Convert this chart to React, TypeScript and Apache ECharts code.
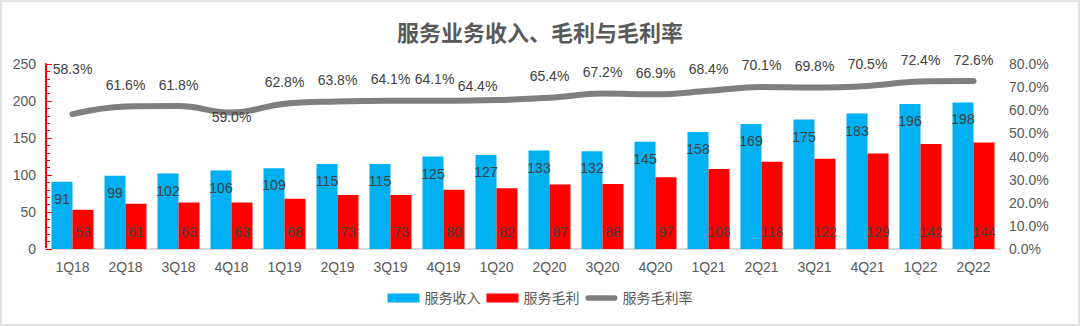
import React, { useEffect, useRef } from "react";
import * as echarts from "echarts";

const categories = ["1Q18","2Q18","3Q18","4Q18","1Q19","2Q19","3Q19","4Q19","1Q20","2Q20","3Q20","4Q20","1Q21","2Q21","3Q21","4Q21","1Q22","2Q22"];
const revenue = [91,99,102,106,109,115,115,125,127,133,132,145,158,169,175,183,196,198];
const grossProfit = [53,61,63,63,68,73,73,80,82,87,88,97,108,118,122,129,142,144];
const grossMargin = [58.3,61.6,61.8,59.0,62.8,63.8,64.1,64.1,64.4,65.4,67.2,66.9,68.4,70.1,69.8,70.5,72.4,72.6];

const FONT = "'Liberation Sans', 'Noto Sans CJK SC', sans-serif";
const LINE_ICON = "path://M3,0 L31,0 A3,3 0 0 1 31,6 L3,6 A3,3 0 0 1 3,0 Z";

export default function App() {
  const ref = useRef<HTMLDivElement>(null);
  useEffect(() => {
    document.body.style.margin = "0";
    const chart = echarts.init(ref.current!, null, { renderer: "svg" });
    const marginData = grossMargin.map((v, i) => {
      if (i === 0) return { value: v, label: { distance: 38 } };
      if (i === 3) return { value: v, label: { position: "inside", offset: [0, 4] } };
      if (i === 7) return { value: v, label: { offset: [-9, 0] } };
      if (i === 8) return { value: v, label: { offset: [-19, 7] } };
      return v;
    });
    chart.setOption({
      animation: false,
      textStyle: { fontFamily: FONT },
      title: {
        text: "服务业务收入、毛利与毛利率",
        left: "center",
        top: 15,
        textStyle: { fontSize: 22, color: "#595959", fontWeight: "bold", fontFamily: FONT },
      },
      legend: {
        bottom: 14,
        left: "center",
        itemWidth: 32,
        itemHeight: 9,
        itemGap: 6,
        textStyle: { fontSize: 14, color: "#595959" },
        data: [
          { name: "服务收入", icon: "rect" },
          { name: "服务毛利", icon: "rect" },
          { name: "服务毛利率", icon: LINE_ICON, itemStyle: { color: "#7f7f7f" } },
        ],
      },
      grid: { left: 44, right: 78, top: 62, bottom: 75 },
      xAxis: {
        type: "category",
        data: categories,
        axisLine: { lineStyle: { color: "#d9d9d9", width: 2 } },
        axisTick: { show: false },
        axisLabel: { fontSize: 14, color: "#595959", margin: 11 },
      },
      yAxis: [
        {
          type: "value",
          min: 0,
          max: 250,
          interval: 50,
          splitLine: { show: false },
          axisLine: { show: true, lineStyle: { color: "#ff0000", width: 2 } },
          axisTick: { show: true, inside: true, length: 6, lineStyle: { color: "#ff0000" } },
          minorTick: { show: true, splitNumber: 5, length: 4, lineStyle: { color: "#ff0000" } },
          axisLabel: { fontSize: 14, color: "#595959", margin: 10 },
        },
        {
          type: "value",
          min: 0,
          max: 80,
          interval: 10,
          splitLine: { show: false },
          axisLine: { show: false },
          axisTick: { show: false },
          axisLabel: {
            fontSize: 14,
            color: "#595959",
            margin: 9,
            formatter: (v: number) => v.toFixed(1) + "%",
          },
        },
      ],
      series: [
        {
          name: "服务收入",
          type: "bar",
          data: revenue,
          barWidth: 21,
          barGap: "0%",
          itemStyle: { color: "#00b0f0" },
          label: {
            show: true,
            position: "insideTop",
            distance: 10,
            fontSize: 14,
            color: "#404040",
          },
        },
        {
          name: "服务毛利",
          type: "bar",
          data: grossProfit,
          barWidth: 21,
          barGap: "0%",
          itemStyle: { color: "#ff0000" },
          label: {
            show: true,
            position: "insideBottom",
            distance: 10,
            fontSize: 14,
            color: "#404040",
          },
        },
        {
          name: "服务毛利率",
          type: "line",
          yAxisIndex: 1,
          data: marginData,
          smooth: 0.4,
          symbol: "circle",
          symbolSize: 1,
          itemStyle: { color: "#7f7f7f" },
          lineStyle: { color: "#7f7f7f", width: 6, cap: "round" },
          z: 5,
          label: {
            show: true,
            position: "top",
            distance: 14,
            fontSize: 14,
            color: "#404040",
            formatter: (p: any) => Number(p.value).toFixed(1) + "%",
          },
        },
      ],
    });
    return () => chart.dispose();
  }, []);
  return (
    <div
      style={{
        width: 1080,
        height: 326,
        boxSizing: "border-box",
        border: "2px solid #e3e3e3",
        background: "#fff",
      }}
    >
      <div ref={ref} style={{ width: 1076, height: 322 }} />
    </div>
  );
}
